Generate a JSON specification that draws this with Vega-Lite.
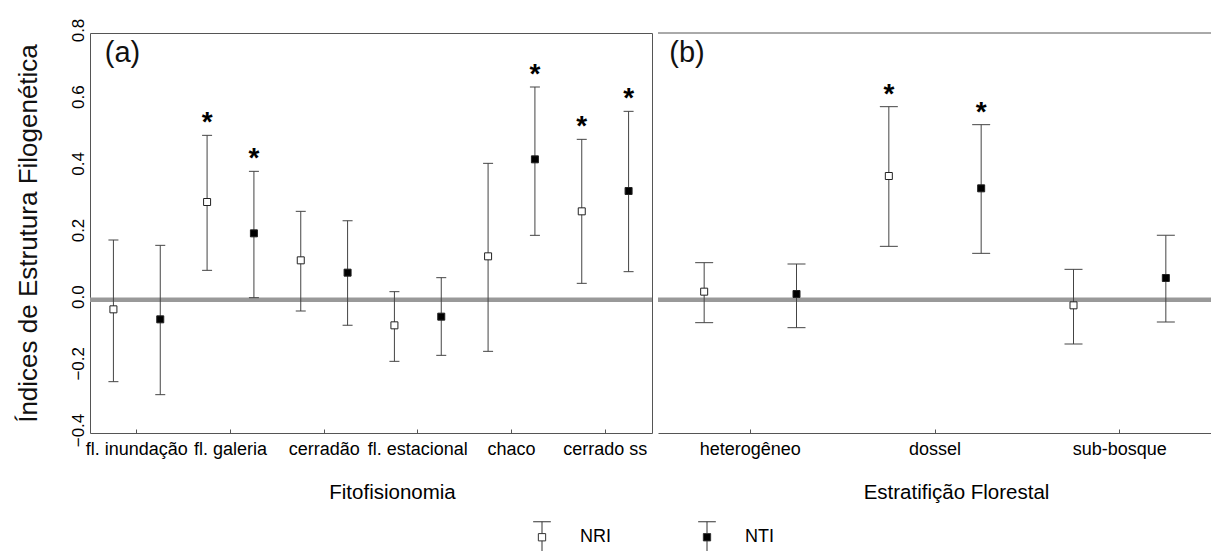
{
  "$schema": "https://vega.github.io/schema/vega-lite/v6.json",
  "padding": {"left": 14, "top": 17, "right": 0, "bottom": 0},
  "background": "white",
  "spacing": 0,
  "config": {
    "font": "Liberation Sans",
    "view": {"stroke": "#555", "strokeWidth": 1},
    "axisX": {"labelAngle": 0, "labelFontSize": 18, "labelColor": "black", "titleFontSize": 20.5, "titleFontWeight": "normal", "titleColor": "black", "tickSize": -4, "tickColor": "#555", "labelPadding": 11, "domain": false, "grid": false, "titlePadding": 24, "labelLimit": 0, "labelOverlap": false},
    "axisY": {"labelFontSize": 17, "labelColor": "black", "ticks": false, "domain": false, "grid": false, "titleFontSize": 26, "titleFontWeight": "normal", "titleColor": "#111", "values": [-0.4, -0.2, 0, 0.2, 0.4, 0.6, 0.8], "format": ".1f"},
    "legend": {"labelFont": "Liberation Sans"}
  },
  "datasets": {
    "pts": [
      {"panel": "a", "cat": "fl. inundação", "series": "NRI", "value": -0.029, "lower": -0.246, "upper": 0.179, "sig": false},
      {"panel": "a", "cat": "fl. inundação", "series": "NTI", "value": -0.059, "lower": -0.285, "upper": 0.163, "sig": false},
      {"panel": "a", "cat": "fl. galeria", "series": "NRI", "value": 0.293, "lower": 0.088, "upper": 0.493, "sig": true},
      {"panel": "a", "cat": "fl. galeria", "series": "NTI", "value": 0.199, "lower": 0.006, "upper": 0.385, "sig": true},
      {"panel": "a", "cat": "cerradão", "series": "NRI", "value": 0.118, "lower": -0.034, "upper": 0.265, "sig": false},
      {"panel": "a", "cat": "cerradão", "series": "NTI", "value": 0.081, "lower": -0.077, "upper": 0.237, "sig": false},
      {"panel": "a", "cat": "fl. estacional", "series": "NRI", "value": -0.077, "lower": -0.185, "upper": 0.024, "sig": false},
      {"panel": "a", "cat": "fl. estacional", "series": "NTI", "value": -0.051, "lower": -0.167, "upper": 0.066, "sig": false},
      {"panel": "a", "cat": "chaco", "series": "NRI", "value": 0.130, "lower": -0.155, "upper": 0.409, "sig": false},
      {"panel": "a", "cat": "chaco", "series": "NTI", "value": 0.421, "lower": 0.193, "upper": 0.638, "sig": true},
      {"panel": "a", "cat": "cerrado ss", "series": "NRI", "value": 0.265, "lower": 0.049, "upper": 0.481, "sig": true},
      {"panel": "a", "cat": "cerrado ss", "series": "NTI", "value": 0.326, "lower": 0.084, "upper": 0.565, "sig": true},
      {"panel": "b", "cat": "heterogêneo", "series": "NRI", "value": 0.024, "lower": -0.069, "upper": 0.111, "sig": false},
      {"panel": "b", "cat": "heterogêneo", "series": "NTI", "value": 0.017, "lower": -0.084, "upper": 0.107, "sig": false},
      {"panel": "b", "cat": "dossel", "series": "NRI", "value": 0.371, "lower": 0.160, "upper": 0.579, "sig": true},
      {"panel": "b", "cat": "dossel", "series": "NTI", "value": 0.334, "lower": 0.139, "upper": 0.525, "sig": true},
      {"panel": "b", "cat": "sub-bosque", "series": "NRI", "value": -0.017, "lower": -0.133, "upper": 0.091, "sig": false},
      {"panel": "b", "cat": "sub-bosque", "series": "NTI", "value": 0.065, "lower": -0.067, "upper": 0.193, "sig": false}
    ]
  },
  "resolve": {"scale": {"x": "independent", "xOffset": "independent", "y": "shared", "fill": "shared"}},
  "hconcat": [
    {
      "width": 562,
      "height": 400,
      "layer": [
        {
          "data": {"values": [{"z": 0}]},
          "mark": {"type": "rule", "color": "#999", "strokeWidth": 4.5},
          "encoding": {"y": {"field": "z", "type": "quantitative", "scale": {"domain": [-0.4, 0.8], "nice": false, "zero": false}, "axis": {"title": "Índices de Estrutura Filogenética", "labelAngle": 270, "labelAlign": "center", "labelBaseline": "bottom", "labelPadding": 3, "labelOffset": -3, "titlePadding": 28}}}
        },
        {
          "data": {"values": [{"cat": "fl. inundação", "lab": "(a)", "top": 0.8}]},
          "mark": {"type": "text", "fontSize": 29, "align": "left", "baseline": "top", "dx": -32, "dy": 6, "color": "#111"},
          "encoding": {
            "x": {"field": "cat", "type": "nominal", "sort": ["fl. inundação", "fl. galeria", "cerradão", "fl. estacional", "chaco", "cerrado ss"], "scale": {"type": "band", "paddingInner": 0, "paddingOuter": 0}, "axis": {"title": "Fitofisionomia", "titleX": 302}},
            "y": {"field": "top", "type": "quantitative", "scale": {"domain": [-0.4, 0.8], "nice": false, "zero": false}, "axis": {"title": "Índices de Estrutura Filogenética", "labelAngle": 270, "labelAlign": "center", "labelBaseline": "bottom", "labelPadding": 3, "labelOffset": -3, "titlePadding": 28}},
            "text": {"field": "lab"}
          }
        },
        {
          "data": {"name": "pts"},
          "transform": [{"filter": "datum.panel === 'a'"}],
          "encoding": {
            "x": {"field": "cat", "type": "nominal", "sort": ["fl. inundação", "fl. galeria", "cerradão", "fl. estacional", "chaco", "cerrado ss"], "scale": {"type": "band", "paddingInner": 0, "paddingOuter": 0}, "axis": {"title": "Fitofisionomia", "titleX": 302}},
            "xOffset": {"field": "series", "type": "nominal", "scale": {"domain": ["NRI", "NTI"], "paddingInner": 0, "paddingOuter": 0}}
          },
          "layer": [
            {
              "mark": {"type": "rule", "color": "#444", "strokeWidth": 1},
              "encoding": {
                "y": {"field": "lower", "type": "quantitative", "scale": {"domain": [-0.4, 0.8], "nice": false, "zero": false}, "axis": {"title": "Índices de Estrutura Filogenética", "labelAngle": 270, "labelAlign": "center", "labelBaseline": "bottom", "labelPadding": 3, "labelOffset": -3, "titlePadding": 28}},
                "y2": {"field": "upper"}
              }
            },
            {
              "mark": {"type": "tick", "orient": "horizontal", "size": 10, "thickness": 1, "color": "#444", "opacity": 1},
              "encoding": {"y": {"field": "upper", "type": "quantitative", "scale": {"domain": [-0.4, 0.8], "nice": false, "zero": false}, "axis": {"title": "Índices de Estrutura Filogenética", "labelAngle": 270, "labelAlign": "center", "labelBaseline": "bottom", "labelPadding": 3, "labelOffset": -3, "titlePadding": 28}}}
            },
            {
              "mark": {"type": "tick", "orient": "horizontal", "size": 10, "thickness": 1, "color": "#444", "opacity": 1},
              "encoding": {"y": {"field": "lower", "type": "quantitative", "scale": {"domain": [-0.4, 0.8], "nice": false, "zero": false}, "axis": {"title": "Índices de Estrutura Filogenética", "labelAngle": 270, "labelAlign": "center", "labelBaseline": "bottom", "labelPadding": 3, "labelOffset": -3, "titlePadding": 28}}}
            },
            {
              "mark": {"type": "point", "shape": "square", "filled": true, "size": 49, "stroke": "#222", "strokeWidth": 1, "opacity": 1},
              "encoding": {
                "y": {"field": "value", "type": "quantitative", "scale": {"domain": [-0.4, 0.8], "nice": false, "zero": false}, "axis": {"title": "Índices de Estrutura Filogenética", "labelAngle": 270, "labelAlign": "center", "labelBaseline": "bottom", "labelPadding": 3, "labelOffset": -3, "titlePadding": 28}},
                "fill": {"field": "series", "type": "nominal", "scale": {"domain": ["NRI", "NTI"], "range": ["white", "black"]},
                  "legend": {"title": null, "orient": "none", "legendX": 436, "legendY": 488, "direction": "horizontal", "padding": 0, "symbolType": "M-0.57,-1H0.57M0,-1V-0.235M-0.235,-0.235H0.235V0.235H-0.235ZM0,0.235V1", "symbolSize": 961, "symbolStrokeColor": "#333", "symbolStrokeWidth": 1, "labelFontSize": 18, "labelColor": "black", "labelOffset": 22, "columnPadding": 80}}
              }
            },
            {
              "transform": [{"filter": "datum.sig"}],
              "mark": {"type": "text", "text": "*", "fontSize": 28, "fontWeight": "bold", "baseline": "alphabetic", "dy": -4, "color": "black"},
              "encoding": {"y": {"field": "upper", "type": "quantitative", "scale": {"domain": [-0.4, 0.8], "nice": false, "zero": false}, "axis": {"title": "Índices de Estrutura Filogenética", "labelAngle": 270, "labelAlign": "center", "labelBaseline": "bottom", "labelPadding": 3, "labelOffset": -3, "titlePadding": 28}}}
            }
          ]
        }
      ]
    },
    {
      "width": 554,
      "height": 400,
      "view": {"stroke": null},
      "layer": [
        {
          "data": {"values": [{"z": 0}]},
          "mark": {"type": "rule", "color": "#999", "strokeWidth": 4.5},
          "encoding": {"y": {"field": "z", "type": "quantitative", "scale": {"domain": [-0.4, 0.8], "nice": false, "zero": false}, "axis": null}}
        },
        {
          "data": {"values": [{"z": 0.8}]},
          "mark": {"type": "rule", "color": "#555", "strokeWidth": 1},
          "encoding": {"y": {"field": "z", "type": "quantitative", "scale": {"domain": [-0.4, 0.8], "nice": false, "zero": false}, "axis": null}}
        },
        {
          "data": {"values": [{"cat": "heterogêneo", "lab": "(b)", "top": 0.8}]},
          "mark": {"type": "text", "fontSize": 29, "align": "left", "baseline": "top", "dx": -81, "dy": 6, "color": "#111"},
          "encoding": {
            "x": {"field": "cat", "type": "nominal", "sort": ["heterogêneo", "dossel", "sub-bosque"], "scale": {"type": "band", "paddingInner": 0, "paddingOuter": 0}, "axis": {"title": "Estratifição Florestal", "titleX": 298, "domain": true, "domainColor": "#555"}},
            "y": {"field": "top", "type": "quantitative", "scale": {"domain": [-0.4, 0.8], "nice": false, "zero": false}, "axis": null},
            "text": {"field": "lab"}
          }
        },
        {
          "data": {"name": "pts"},
          "transform": [{"filter": "datum.panel === 'b'"}],
          "encoding": {
            "x": {"field": "cat", "type": "nominal", "sort": ["heterogêneo", "dossel", "sub-bosque"], "scale": {"type": "band", "paddingInner": 0, "paddingOuter": 0}, "axis": {"title": "Estratifição Florestal", "titleX": 298, "domain": true, "domainColor": "#555"}},
            "xOffset": {"field": "series", "type": "nominal", "scale": {"domain": ["NRI", "NTI"], "paddingInner": 0, "paddingOuter": 0}}
          },
          "layer": [
            {
              "mark": {"type": "rule", "color": "#444", "strokeWidth": 1},
              "encoding": {
                "y": {"field": "lower", "type": "quantitative", "scale": {"domain": [-0.4, 0.8], "nice": false, "zero": false}, "axis": null},
                "y2": {"field": "upper"}
              }
            },
            {
              "mark": {"type": "tick", "orient": "horizontal", "size": 18, "thickness": 1, "color": "#444", "opacity": 1},
              "encoding": {"y": {"field": "upper", "type": "quantitative", "scale": {"domain": [-0.4, 0.8], "nice": false, "zero": false}, "axis": null}}
            },
            {
              "mark": {"type": "tick", "orient": "horizontal", "size": 18, "thickness": 1, "color": "#444", "opacity": 1},
              "encoding": {"y": {"field": "lower", "type": "quantitative", "scale": {"domain": [-0.4, 0.8], "nice": false, "zero": false}, "axis": null}}
            },
            {
              "mark": {"type": "point", "shape": "square", "filled": true, "size": 49, "stroke": "#222", "strokeWidth": 1, "opacity": 1},
              "encoding": {
                "y": {"field": "value", "type": "quantitative", "scale": {"domain": [-0.4, 0.8], "nice": false, "zero": false}, "axis": null},
                "fill": {"field": "series", "type": "nominal", "scale": {"domain": ["NRI", "NTI"], "range": ["white", "black"]},
                  "legend": {"title": null, "orient": "none", "legendX": 436, "legendY": 488, "direction": "horizontal", "padding": 0, "symbolType": "M-0.57,-1H0.57M0,-1V-0.235M-0.235,-0.235H0.235V0.235H-0.235ZM0,0.235V1", "symbolSize": 961, "symbolStrokeColor": "#333", "symbolStrokeWidth": 1, "labelFontSize": 18, "labelColor": "black", "labelOffset": 22, "columnPadding": 80}}
              }
            },
            {
              "transform": [{"filter": "datum.sig"}],
              "mark": {"type": "text", "text": "*", "fontSize": 28, "fontWeight": "bold", "baseline": "alphabetic", "dy": -4, "color": "black"},
              "encoding": {"y": {"field": "upper", "type": "quantitative", "scale": {"domain": [-0.4, 0.8], "nice": false, "zero": false}, "axis": null}}
            }
          ]
        }
      ]
    }
  ]
}
